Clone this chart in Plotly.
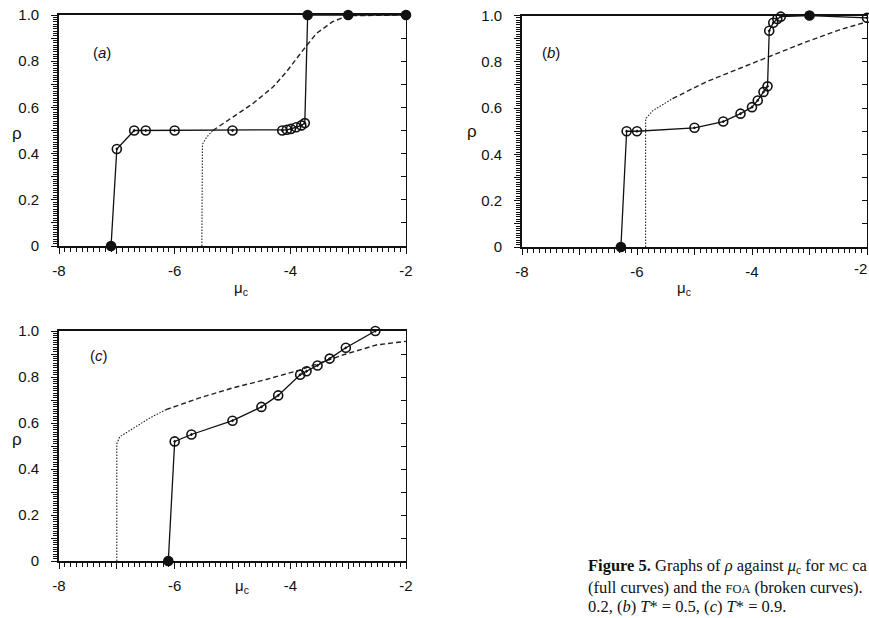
import plotly.graph_objects as go

# ---------------- data ----------------
# panel (a)  T* = 0.2
a_mc_x = [-7.1, -7.0, -6.7, -6.5, -6.0, -5.0, -4.14, -4.06, -3.99, -3.90, -3.81, -3.75, -3.70, -3.0, -2.0]
a_mc_y = [0.0, 0.42, 0.50, 0.50, 0.50, 0.50, 0.50, 0.503, 0.507, 0.514, 0.522, 0.532, 1.0, 1.0, 1.0]
a_mc_filled = [1, 0, 0, 0, 0, 0, 0, 0, 0, 0, 0, 0, 1, 1, 1]
a_foa_x = [-5.53, -5.53, -5.52, -5.45, -5.34, -5.0, -4.65, -4.30, -4.07, -3.78, -3.55, -3.27, -3.0, -2.0]
a_foa_y = [0.0, 0.30, 0.44, 0.47, 0.50, 0.556, 0.616, 0.688, 0.753, 0.848, 0.92, 0.971, 0.997, 1.0]
a_foa_dotted_upto = 4

# panel (b)  T* = 0.5
b_mc_x = [-6.28, -6.18, -6.0, -5.0, -4.5, -4.2, -4.0, -3.9, -3.8, -3.73, -3.70, -3.63, -3.56, -3.50, -3.0, -2.0]
b_mc_y = [0.0, 0.50, 0.50, 0.515, 0.542, 0.576, 0.604, 0.633, 0.67, 0.694, 0.934, 0.969, 0.985, 0.995, 1.0, 0.99]
b_mc_filled = [1, 0, 0, 0, 0, 0, 0, 0, 0, 0, 0, 0, 0, 0, 1, 0]
b_foa_x = [-5.85, -5.85, -5.72, -5.38, -4.80, -4.22, -3.64, -3.06, -2.49, -2.0]
b_foa_y = [0.0, 0.554, 0.59, 0.641, 0.713, 0.771, 0.829, 0.886, 0.937, 0.973]
b_foa_dotted_upto = 3

# panel (c)  T* = 0.9
c_mc_x = [-6.11, -6.0, -5.71, -5.0, -4.5, -4.21, -3.83, -3.72, -3.53, -3.32, -3.04, -2.53]
c_mc_y = [0.0, 0.52, 0.55, 0.61, 0.67, 0.72, 0.81, 0.825, 0.85, 0.88, 0.927, 1.0]
c_mc_filled = [1, 0, 0, 0, 0, 0, 0, 0, 0, 0, 0, 0]
c_foa_x = [-7.0, -7.0, -6.95, -6.72, -6.43, -6.15, -5.57, -4.99, -4.42, -3.84, -3.04, -2.5, -2.0]
c_foa_y = [0.0, 0.51, 0.54, 0.578, 0.622, 0.658, 0.709, 0.753, 0.789, 0.83, 0.90, 0.94, 0.955]
c_foa_dotted_upto = 5

x_tick_vals = [-8, -7, -6, -5, -4, -3, -2]
x_tick_text = ["-8", "", "-6", "", "-4", "", "-2"]
y_tick_vals = [0, 0.1, 0.2, 0.3, 0.4, 0.5, 0.6, 0.7, 0.8, 0.9, 1.0]
y_tick_text = ["0", "", "0.2", "", "0.4", "", "0.6", "", "0.8", "", "1.0"]
panel_labels = ["(<i>a</i>)", "(<i>b</i>)", "(<i>c</i>)"]
caption_lines = [
    "<b>Figure 5.</b> Graphs of <i>ρ</i> against <i>μ</i><sub>c</sub> for <span style=\"font-size:12.5px\">MC</span> ca",
    "(full curves) and the <span style=\"font-size:12.5px\">FOA</span> (broken curves).",
    "0.2, (<i>b</i>) <i>T</i>* = 0.5, (<i>c</i>) <i>T</i>* = 0.9.",
]

# ---------------- layout geometry (pixels -> paper) ----------------
W, H = 869, 618
def px(x):
    return x / W
def py(y):
    return 1 - y / H

panels = [
    dict(xd=[px(59), px(406)], yd=[py(246), py(15)],
         mc=(a_mc_x, a_mc_y, a_mc_filled), foa=(a_foa_x, a_foa_y, a_foa_dotted_upto),
         lab=(91, 42), rho=(10, 122), mu=(232, 288)),
    dict(xd=[px(522), px(867)], yd=[py(247), py(15.5)],
         mc=(b_mc_x, b_mc_y, b_mc_filled), foa=(b_foa_x, b_foa_y, b_foa_dotted_upto),
         lab=(551, 42), rho=(472, 120), mu=(693, 289)),
    dict(xd=[px(59), px(406)], yd=[py(561), py(331)],
         mc=(c_mc_x, c_mc_y, c_mc_filled), foa=(c_foa_x, c_foa_y, c_foa_dotted_upto),
         lab=(88, 355), rho=(10, 451), mu=(233, 598)),
]

fig = go.Figure()
tickfont = dict(family="Liberation Sans", size=15, color="#111")
annotations = []

for i, p in enumerate(panels):
    n = "" if i == 0 else str(i + 1)
    xa, ya = "x" + n, "y" + n
    fx, fy, k = p["foa"]
    fig.add_trace(go.Scatter(x=fx[:k + 1], y=fy[:k + 1], mode="lines", xaxis=xa, yaxis=ya,
                             line=dict(color="#222", width=1.1, dash="1.5px,1.5px"),
                             showlegend=False, cliponaxis=False))
    fig.add_trace(go.Scatter(x=fx[k:], y=fy[k:], mode="lines", xaxis=xa, yaxis=ya,
                             line=dict(color="#222", width=1.4, dash="5px,3px"),
                             showlegend=False, cliponaxis=False))
    mx, my, mf = p["mc"]
    symbols = ["circle" if f else "circle-open-dot" for f in mf]
    fig.add_trace(go.Scatter(x=mx, y=my, mode="lines+markers", xaxis=xa, yaxis=ya,
                             line=dict(color="#111", width=1.3),
                             marker=dict(symbol=symbols, size=9, color="#111",
                                         line=dict(color="#111", width=1.6)),
                             showlegend=False, cliponaxis=False))

    xk = "xaxis" + n
    yk = "yaxis" + n
    fig.update_layout(**{
        xk: dict(domain=p["xd"], anchor=ya, range=[-8, -2], showline=True, linecolor="#111",
                 linewidth=1.6, mirror=True, ticks="outside", ticklen=6, tickwidth=1.3,
                 tickcolor="#111", tickvals=x_tick_vals, ticktext=x_tick_text,
                 tickfont=tickfont, showgrid=False, zeroline=False, ticklabelstandoff=4,
                 automargin=False,
                 minor=dict(dtick=0.1, tick0=-8, ticks="outside", ticklen=4, tickwidth=1,
                            tickcolor="#111", showgrid=False)),
        yk: dict(domain=p["yd"], anchor=xa, range=[0, 1], showline=True, linecolor="#111",
                 linewidth=1.6, ticks="outside", ticklen=6, tickwidth=1.3,
                 tickcolor="#111", tickvals=y_tick_vals, ticktext=y_tick_text,
                 tickfont=tickfont, showgrid=False, zeroline=False, ticklabelstandoff=9,
                 automargin=False,
                 minor=dict(dtick=0.01, tick0=0, ticks="outside", ticklen=4, tickwidth=0.8,
                            tickcolor="#111", showgrid=False)),
    })
    # right-hand inner ticks
    rk = "yaxis" + str(4 + i)
    fig.update_layout(**{
        rk: dict(overlaying=ya, side="right", anchor=xa, range=[0, 1], showline=True,
                 linecolor="#111", linewidth=1.2, ticks="inside", ticklen=5, tickwidth=1,
                 tickcolor="#111", tickvals=y_tick_vals, showticklabels=False,
                 showgrid=False, zeroline=False, automargin=False)
    })
    fig.add_trace(go.Scatter(x=[None], y=[None], xaxis=xa, yaxis="y" + str(4 + i),
                             showlegend=False, hoverinfo="skip"))

    annotations.append(dict(text=panel_labels[i], x=px(p["lab"][0]), y=py(p["lab"][1]),
                            xref="paper", yref="paper", showarrow=False,
                            font=dict(family="Liberation Sans", size=15, color="#111")))
    annotations.append(dict(text="ρ", x=px(p["rho"][0]), y=py(p["rho"][1]),
                            xref="paper", yref="paper", showarrow=False,
                            font=dict(family="Liberation Sans", size=17, color="#111")))
    annotations.append(dict(text="μ<sub>c</sub>", x=px(p["mu"][0]), y=py(p["mu"][1]),
                            xref="paper", yref="paper", showarrow=False,
                            font=dict(family="Liberation Sans", size=15, color="#111")))

# "-2" label of panel (b), which sits on the right edge of the page
annotations.append(dict(text=x_tick_text[-1], x=1.0, y=py(268), xref="paper", yref="paper",
                        xanchor="right", showarrow=False, font=tickfont))

for j, line in enumerate(caption_lines):
    annotations.append(dict(text=line, x=px(586), y=py([566, 587, 606][j]), xref="paper",
                            yref="paper", xanchor="left", yanchor="middle", showarrow=False,
                            font=dict(family="Liberation Serif", size=16.5, color="#111")))

fig.update_layout(width=W, height=H, margin=dict(l=0, r=0, t=0, b=0, autoexpand=False),
                  template="none",
                  paper_bgcolor="white", plot_bgcolor="white",
                  annotations=annotations, showlegend=False)

fig.write_html("out.html", config={"displayModeBar": False},
               post_script="document.body.style.margin='0';")
